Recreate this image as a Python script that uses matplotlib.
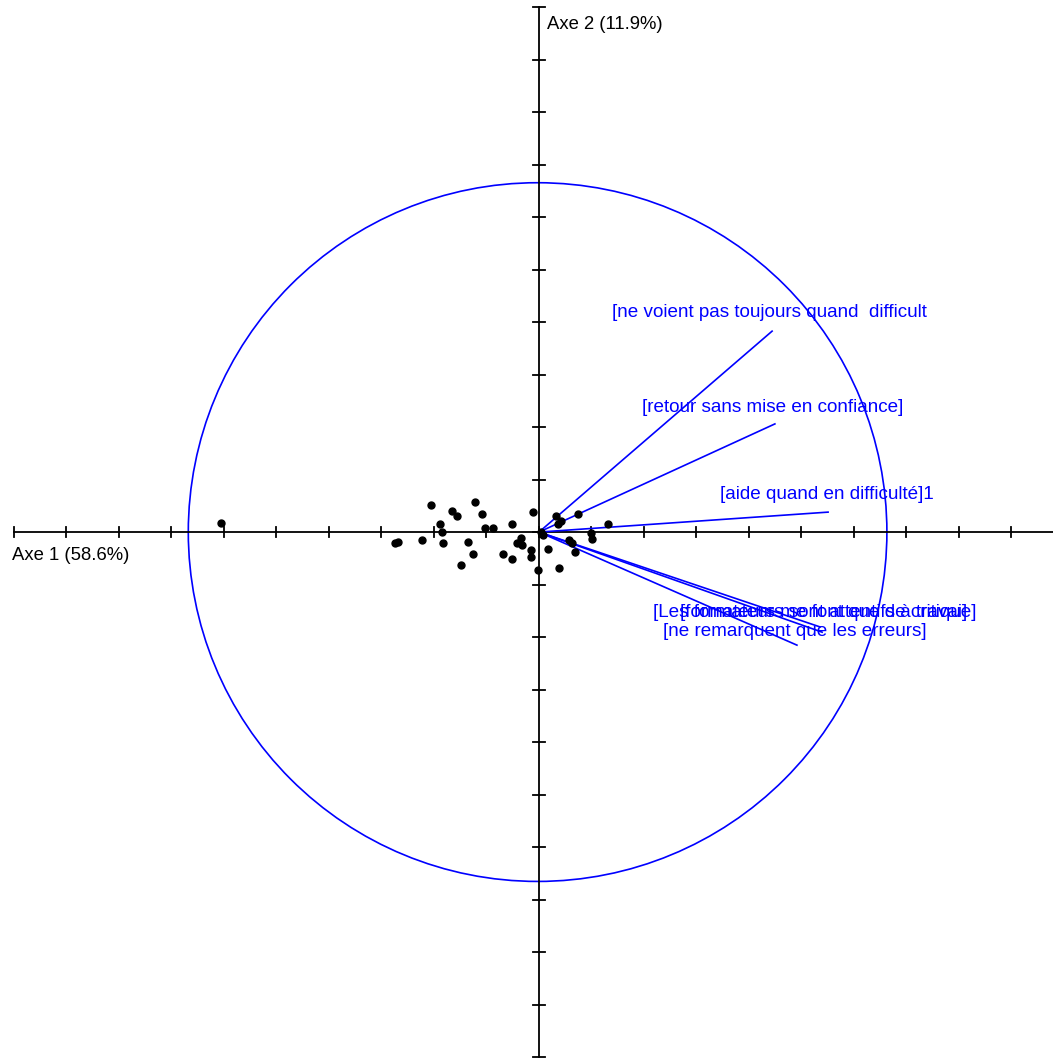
import numpy as np
import matplotlib
matplotlib.use('Agg')
import matplotlib.pyplot as plt
from matplotlib.patches import Circle

plt.rcParams['font.family'] = ['Liberation Sans', 'DejaVu Sans']

# Individuals (factor scores, axis 1 / axis 2)
ind_x = [-0.909, -0.411, -0.403, -0.334, -0.309, -0.283, -0.277, -0.274, -0.249, -0.234,
         -0.223, -0.203, -0.189, -0.183, -0.163, -0.154, -0.131, -0.103, -0.077, -0.077,
         -0.063, -0.051, -0.049, -0.023, -0.023, -0.017, -0.003, 0.006, 0.011, 0.026,
         0.049, 0.054, 0.063, 0.057, 0.111, 0.086, 0.094, 0.103, 0.149, 0.151, 0.197]
ind_y = [0.027, -0.031, -0.029, -0.023, 0.077, 0.023, 0.000, -0.031, 0.060, 0.046,
         -0.094, -0.029, -0.063, 0.086, 0.051, 0.011, 0.011, -0.063, 0.023, -0.077,
         -0.031, -0.017, -0.037, -0.051, -0.071, 0.057, -0.109, 0.000, -0.009, -0.049,
         0.046, 0.023, 0.031, -0.103, 0.051, -0.023, -0.031, -0.057, -0.003, -0.020, 0.023]

# Variables (correlations with axes)
var_names = ['[ne voient pas toujours quand  difficult',
             '[retour sans mise en confiance]',
             '[aide quand en difficulté]1',
             '[Les formateurs sont attentifs à travai]',
             '[formateurs me font que de critique]',
             '[ne remarquent que les erreurs]']
var_x = [0.666, 0.674, 0.826, 0.803, 0.809, 0.737]
var_y = [0.574, 0.309, 0.057, -0.271, -0.286, -0.323]
# label anchor (left, centre)
lab_x = [0.209, 0.294, 0.517, 0.326, 0.403, 0.354]
lab_y = [0.626, 0.357, 0.106, -0.231, -0.231, -0.283]

blue = '#0000ff'

fig = plt.figure(figsize=(10.53, 10.61), dpi=100)
ax = fig.add_axes([0, 0, 1, 1])
ax.set_xlim(-1.54, 1.4686)
ax.set_ylim(-1.511, 1.52)
ax.axis('off')

# axes with ticks
ax.plot([-1.5, 1.5], [0, 0], color='black', lw=1.3)
ax.plot([0, 0], [-1.5, 1.5], color='black', lw=1.3)
ticks = np.arange(-10, 11) * 0.15
for t in ticks:
    ax.plot([t, t], [-0.014, 0.014], color='black', lw=1.3)
    ax.plot([-0.016, 0.016], [t, t], color='black', lw=1.3)

ax.text(-1.506, -0.068, 'Axe 1 (58.6%)', fontsize=13.3, va='center', ha='left')
ax.text(0.023, 1.45, 'Axe 2 (11.9%)', fontsize=13.3, va='center', ha='left')

# correlation circle
ax.add_patch(Circle((-0.004, 0.0), 0.998, fill=False, ec=blue, lw=1.2))

for i in range(len(var_names)):
    ax.plot([0, var_x[i]], [0, var_y[i]], color=blue, lw=1.2)
    ax.text(lab_x[i], lab_y[i], var_names[i], color=blue, fontsize=13.6,
            va='center', ha='left')

ax.plot(ind_x, ind_y, 'o', color='black', markersize=5)

fig.savefig('out.png', dpi=100)
